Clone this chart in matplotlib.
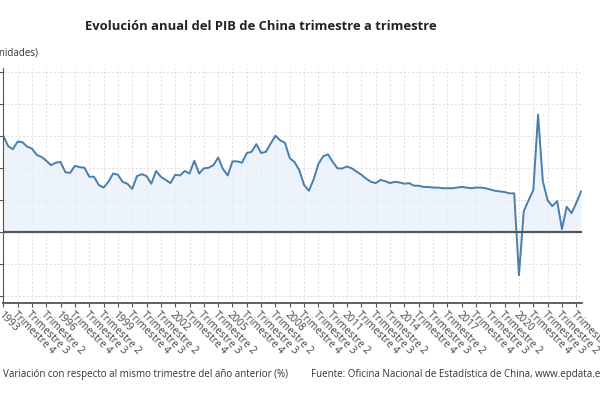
import matplotlib
matplotlib.use("Agg")
import matplotlib.pyplot as plt
import numpy as np

plt.rcParams["font.family"] = ["Open Sans", "DejaVu Sans"]

years = list(range(1993, 2024))

# tasa de variacion interanual por trimestre (%)
pib = [
    15.0, 13.4, 12.9, 14.1,   # 1993
    14.0, 13.3, 13.0, 12.0,   # 1994
    11.7, 11.1, 10.4, 10.8,   # 1995
    10.9, 9.3, 9.2, 10.3,     # 1996
    10.1, 10.0, 8.6, 8.6,     # 1997
    7.3, 6.9, 7.8, 9.1,       # 1998
    8.9, 7.8, 7.5, 6.7,       # 1999
    8.7, 9.0, 8.7, 7.5,       # 2000
    9.5, 8.6, 8.1, 7.6,       # 2001
    8.9, 8.8, 9.5, 9.1,       # 2002
    11.1, 9.1, 9.9, 10.0,     # 2003
    10.4, 11.6, 9.8, 8.8,     # 2004
    11.0, 11.0, 10.8, 12.3,   # 2005
    12.5, 13.7, 12.3, 12.5,   # 2006
    13.8, 15.0, 14.3, 13.9,   # 2007
    11.5, 10.9, 9.6, 7.3,     # 2008
    6.4, 8.2, 10.6, 11.8,     # 2009
    12.1, 10.9, 9.9, 9.9,     # 2010
    10.2, 9.9, 9.4, 8.9,      # 2011
    8.3, 7.8, 7.6, 8.1,       # 2012
    7.9, 7.6, 7.8, 7.7,       # 2013
    7.5, 7.6, 7.2, 7.2,       # 2014
    7.0, 7.0, 6.9, 6.9,       # 2015
    6.8, 6.8, 6.8, 6.9,       # 2016
    7.0, 6.9, 6.8, 6.9,       # 2017
    6.9, 6.8, 6.6, 6.4,       # 2018
    6.3, 6.2, 6.0, 6.0,       # 2019
    -6.8, 3.2, 4.9, 6.5,      # 2020
    18.3, 7.9, 4.9, 4.0,      # 2021
    4.8, 0.4, 3.9, 2.9,       # 2022
    4.5, 6.3,                 # 2023
]

# etiquetas: el primer trimestre muestra el año
labels = []
for y in years:
    for q in range(1, 5):
        labels.append(str(y) if q == 1 else f"Trimestre {q}")
labels = labels[:len(pib)]
labels[120] = "Trimestre 1"

x = np.arange(len(pib))
line_color = "#4a7eab"

fig = plt.figure(figsize=(6, 4), dpi=100)
ax = fig.add_axes([3.3 / 600, 1 - 302.7 / 400, 578.7 / 600, (302.7 - 68) / 400])

ax.fill_between(x, pib, 0, color="#e6eff8", alpha=0.7, linewidth=0)
ax.plot(x, pib, color=line_color, linewidth=1.4)
ax.axhline(0, color="#555555", linewidth=1.6, zorder=3)

ax.set_xlim(0, 121.2)
ax.set_ylim(-11.1, 25.6)

ticks = x[::3]
ax.set_xticks(ticks)
ax.set_xticklabels([labels[i] for i in ticks], rotation=-45, ha="left",
                   va="top", rotation_mode="anchor", fontsize=7.5, color="#444444")
ax.set_yticks(range(-10, 30, 5))
ax.tick_params(axis="y", length=3, color="#555555", labelsize=7.5)
ax.tick_params(axis="x", length=3, color="#555555", pad=2)

ax.grid(axis="y", color="#dddddd", linestyle=(0, (2, 2)), linewidth=0.7)
ax.grid(axis="x", color="#dddddd", linestyle=(0, (2, 2)), linewidth=0.7)
ax.set_axisbelow(True)

for side in ["top", "right"]:
    ax.spines[side].set_visible(False)
ax.spines["left"].set_color("#555555")
ax.spines["bottom"].set_color("#555555")
ax.spines["bottom"].set_linewidth(1.3)

fig.text(261 / 600, 1 - 27 / 400, "Evolución anual del PIB de China trimestre a trimestre",
         ha="center", va="center", fontsize=9.4, fontweight="bold", color="#222222")
fig.text(38 / 600, 1 - 53 / 400, "(en unidades)", ha="right", va="center",
         fontsize=7, color="#333333")
fig.text(3 / 600, 1 - 375 / 400,
         "Variación con respecto al mismo trimestre del año anterior (%)",
         ha="left", va="center", fontsize=7, color="#333333")
fig.text(311 / 600, 1 - 375 / 400,
         "Fuente: Oficina Nacional de Estadística de China, www.epdata.es",
         ha="left", va="center", fontsize=7, color="#333333")

fig.savefig("out.png", dpi=100)
plt.close(fig)
